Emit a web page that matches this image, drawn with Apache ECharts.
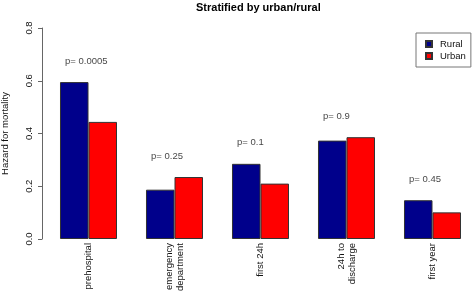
<!DOCTYPE html>
<html>
<head>
<meta charset="utf-8">
<script src="https://cdn.jsdelivr.net/npm/echarts@6/dist/echarts.min.js"></script>
<style>
  html, body { margin: 0; padding: 0; background: #fff; }
  #chart { width: 472px; height: 292px; }
</style>
</head>
<body>
<div id="chart"></div>
<script>
// stages of care
const categories = ['prehospital', 'emergency\ndepartment', 'first 24h', '24h to\ndischarge', 'first year'];
// hazard for mortality
const rural = [0.595, 0.187, 0.285, 0.373, 0.147];
const urban = [0.444, 0.235, 0.210, 0.386, 0.101];
const pValues = ['p= 0.0005', 'p= 0.25', 'p= 0.1', 'p= 0.9', 'p= 0.45'];

const font = 'Liberation Sans, Arial, sans-serif';

// p labels sit a little above the taller bar of each group
const pData = categories.map((c, i) => [i, Math.max(rural[i], urban[i]) + 0.08]);

const chart = echarts.init(document.getElementById('chart'));

const option = {
  animation: false,
  backgroundColor: '#fff',
  textStyle: { fontFamily: font },
  title: {
    text: 'Stratified by urban/rural',
    left: 196,
    top: 2,
    padding: 0,
    textStyle: { fontSize: 11, fontWeight: 'bold', color: '#000', fontFamily: font }
  },
  legend: {
    data: ['Rural', 'Urban'],
    orient: 'vertical',
    left: 416,
    top: 33,
    padding: [6, 5, 6, 9],
    itemGap: 2,
    itemWidth: 6,
    itemHeight: 6,
    icon: 'rect',
    borderColor: '#777',
    borderWidth: 1,
    textStyle: { fontSize: 9.5, color: '#111', fontFamily: font, padding: [0, 0, 0, 3] }
  },
  grid: { left: 45.5, top: 28, width: 430, bottom: 53, outerBoundsMode: 'none', containLabel: false },
  xAxis: {
    type: 'category',
    data: categories,
    axisLine: { show: false },
    axisTick: { show: false },
    axisLabel: {
      rotate: 90,
      margin: 4,
      fontSize: 9.5,
      lineHeight: 11,
      color: '#111',
      fontFamily: font,
      interval: 0
    }
  },
  yAxis: {
    type: 'value',
    min: 0,
    max: 0.8,
    interval: 0.2,
    offset: 3.5,
    name: 'Hazard for mortality',
    nameLocation: 'middle',
    nameRotate: 90,
    nameGap: 32,
    nameTextStyle: { fontSize: 9.5, color: '#111', fontFamily: font },
    splitLine: { show: false },
    axisLine: { show: true, lineStyle: { color: '#666', width: 1 } },
    axisTick: { show: true, length: 4, lineStyle: { color: '#666' } },
    axisLabel: {
      rotate: 90,
      margin: 8,
      fontSize: 9.5,
      color: '#111',
      fontFamily: font,
      formatter: v => v.toFixed(1)
    }
  },
  series: [
    {
      name: 'Rural',
      type: 'bar',
      data: rural,
      barGap: '0%',
      barCategoryGap: '33.7%',
      itemStyle: { color: '#00008B', borderColor: '#333', borderWidth: 1 }
    },
    {
      name: 'Urban',
      type: 'bar',
      data: urban,
      barGap: '0%',
      barCategoryGap: '33.7%',
      itemStyle: { color: '#FF0000', borderColor: '#333', borderWidth: 1 }
    },
    {
      name: 'p',
      type: 'scatter',
      data: pData,
      symbolSize: 0,
      silent: true,
      label: {
        show: true,
        position: 'inside',
        align: 'left',
        offset: [-23.5, 0],
        fontSize: 9.5,
        color: '#111',
        fontFamily: font,
        formatter: p => pValues[p.dataIndex]
      }
    }
  ]
};

chart.setOption(option);
</script>
</body>
</html>
